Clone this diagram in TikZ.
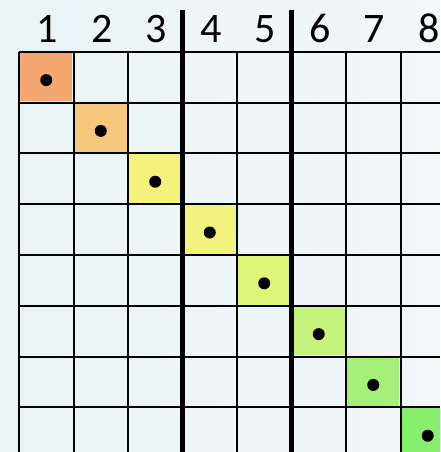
\documentclass[tikz,border=0pt]{standalone}
\usepackage{fontspec}
\setmainfont{Carlito}
\usepackage{tikz}
\usetikzlibrary{positioning}
\definecolor{pagebg}{RGB}{242,247,249}
\definecolor{pagetint}{RGB}{233,244,245}
\definecolor{hueA}{RGB}{244,168,112}
\definecolor{hueB}{RGB}{246,200,126}
\definecolor{hueC}{RGB}{244,242,122}
\definecolor{hueD}{RGB}{242,242,126}
\definecolor{hueE}{RGB}{222,245,122}
\definecolor{hueF}{RGB}{196,242,122}
\definecolor{hueG}{RGB}{164,240,120}
\definecolor{hueH}{RGB}{136,238,110}

\begin{document}
\begin{tikzpicture}[
  x=1pt, y=-1pt,
  cell/.style={rectangle, minimum width=52pt, minimum height=48.5pt, inner sep=0pt, draw=none},
  stone/.style={circle, fill=black, inner sep=0pt, minimum size=12pt},
  num/.style={anchor=base, font=\fontsize{42}{42}\selectfont},
  gridline/.style={line width=2pt, black},
  divider/.style={line width=4.8pt, black}
]

% Page and background
\useasboundingbox (0,0) rectangle (440,452);
\clip (0,0) rectangle (440,452);
\shade[left color=pagetint, right color=pagebg] (0,0) rectangle (440,452);

% Column numbers
\foreach \i in {1,...,8}
  \node[num] (n\i) at ({19+(\i-0.5)*54.5+1}, 43) {\i};

% Coloured diagonal cells
\foreach \i/\c in {1/hueA, 2/hueB, 3/hueC, 4/hueD, 5/hueE, 6/hueF, 7/hueG, 8/hueH}
  \node[cell, fill=\c] (d\i) at ({19+(\i-0.5)*54.5}, {51.7+(\i-0.5)*50.8}) {};

% Grid
\foreach \k in {0,...,8} {
  \draw[gridline] ({19+\k*54.5}, 51.7) -- ({19+\k*54.5}, 452);
  \draw[gridline] (19, {51.7+\k*50.8}) -- (440, {51.7+\k*50.8});
}

% Group dividers
\draw[divider] (182.5, 10) -- (182.5, 452);
\draw[divider] (291.5, 10) -- (291.5, 452);

% Stones
\foreach \i in {1,...,8}
  \node[stone] (p\i) at ([yshift=-3pt]d\i.center) {};

\end{tikzpicture}
\end{document}
